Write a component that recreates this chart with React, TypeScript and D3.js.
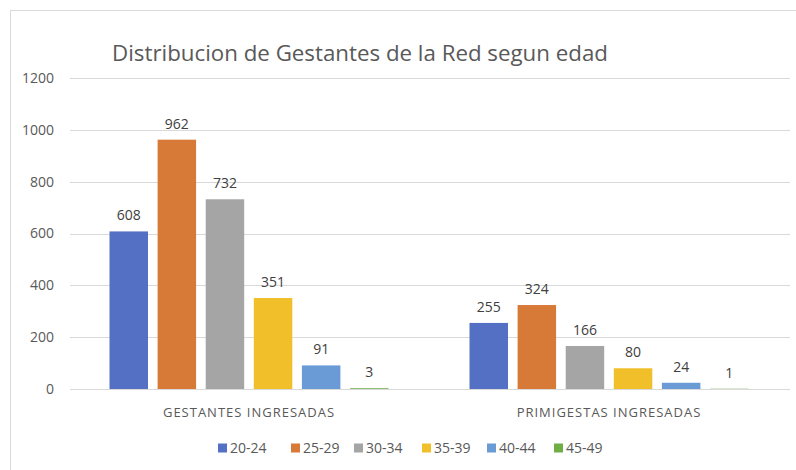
import * as d3 from 'd3'

const categories = ['GESTANTES INGRESADAS', 'PRIMIGESTAS INGRESADAS']
const ageGroups = ['20-24', '25-29', '30-34', '35-39', '40-44', '45-49']
const gestantes = [608, 962, 732, 351, 91, 3]
const primigestas = [255, 324, 166, 80, 24, 1]
const yTicks = [0, 200, 400, 600, 800, 1000, 1200]
const colors = ['#5470c4', '#d77a38', '#a5a5a5', '#f0bf2a', '#6a9bd6', '#70ad47']

const values = [gestantes, primigestas]

const width = 796
const height = 470
const marginLeft = 70
const marginRight = 6
const marginTop = 78
const plotBottom = 389
const font = "'Open Sans', 'Noto Sans', sans-serif"
const textColor = '#595959'

export default function App() {
  const x = d3
    .scaleBand<string>()
    .domain(categories)
    .range([marginLeft - 1, width - marginRight - 1])

  const inner = d3
    .scaleBand<string>()
    .domain(ageGroups)
    .range([40.5, x.bandwidth() - 40.5])
    .paddingInner(0.2)

  const y = d3.scaleLinear().domain([0, 1200]).range([plotBottom, marginTop])

  const legendX = [218, 291, 354, 422, 487, 554]

  return (
    <svg
      width={width}
      height={height}
      style={{ position: 'absolute', left: 0, top: 0, background: '#fff' }}
    >
      <rect x={10.5} y={10.5} width={width} height={height} fill="#fff" stroke="#d9d9d9" />
      <text
        x={360}
        y={61}
        textAnchor="middle"
        fontFamily={font}
        fontSize={22.3}
        fill={textColor}
      >
        Distribucion de Gestantes de la Red segun edad
      </text>

      <g>
        {yTicks.map((t) => (
          <g key={t}>
            <line
              x1={marginLeft}
              x2={width - marginRight}
              y1={Math.round(y(t)) + 0.5}
              y2={Math.round(y(t)) + 0.5}
              stroke="#d9d9d9"
            />
            <text
              x={54}
              y={y(t)}
              dy="0.35em"
              textAnchor="end"
              fontFamily={font}
              fontSize={14}
              fill={textColor}
            >
              {t}
            </text>
          </g>
        ))}
      </g>

      {categories.map((c, ci) => (
        <g key={c} transform={`translate(${x(c)},0)`}>
          {ageGroups.map((a, ai) => {
            const v = values[ci][ai]
            return (
              <g key={a}>
                <rect
                  x={inner(a)}
                  y={y(v)}
                  width={inner.bandwidth()}
                  height={y(0) - y(v)}
                  fill={colors[ai]}
                />
                <text
                  x={(inner(a) as number) + inner.bandwidth() / 2}
                  y={y(v) - 11}
                  textAnchor="middle"
                  fontFamily={font}
                  fontSize={14}
                  fill="#404040"
                >
                  {v}
                </text>
              </g>
            )
          })}
          <text
            x={x.bandwidth() / 2}
            y={417}
            textAnchor="middle"
            fontFamily={font}
            fontSize={13}
            letterSpacing={1}
            fill={textColor}
          >
            {c}
          </text>
        </g>
      ))}

      {ageGroups.map((a, i) => (
        <g key={a} transform={`translate(${legendX[i]},448)`}>
          <rect x={0} y={-4.5} width={9} height={9} fill={colors[i]} />
          <text x={12} y={0} dy="0.35em" fontFamily={font} fontSize={14} fill={textColor}>
            {a}
          </text>
        </g>
      ))}
    </svg>
  )
}
